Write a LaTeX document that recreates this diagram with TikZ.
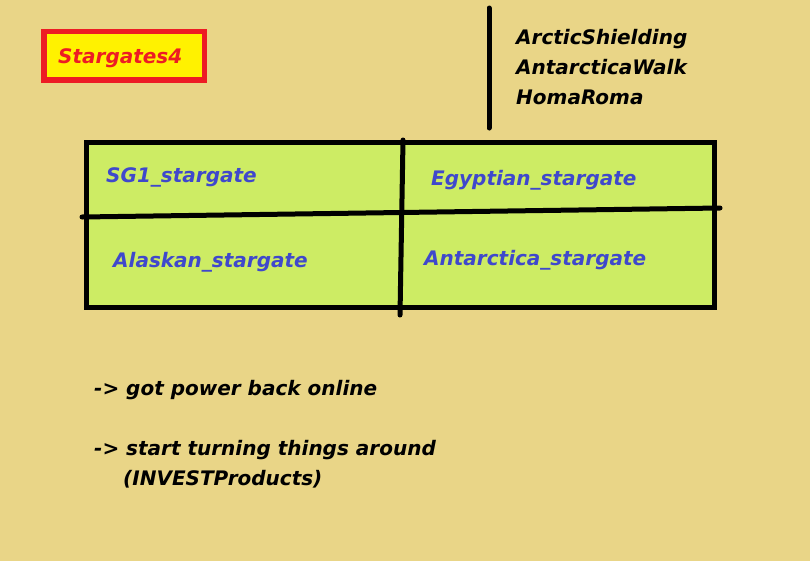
\documentclass[tikz,border=0pt]{standalone}
\usepackage{fontspec}
\setmainfont{DejaVu Sans}
\definecolor{bg}{RGB}{233,213,135}
\definecolor{cellgreen}{RGB}{205,236,100}
\definecolor{txtblue}{RGB}{63,72,204}
\definecolor{redb}{RGB}{237,28,36}
\definecolor{yel}{RGB}{255,242,0}
\tikzset{
  lbl/.style={anchor=base west, inner sep=0pt, font=\fontsize{20}{24}\selectfont\bfseries\itshape},
  celltxt/.style={lbl, text=txtblue},
  blacktxt/.style={lbl, text=black},
  thick line/.style={draw=black, line width=5pt, line cap=round}
}
\begin{document}
\begin{tikzpicture}[x=1pt,y=-1pt]
\useasboundingbox (0,0) rectangle (810,560);
\fill[bg] (-2,-2) rectangle (812,562);
% title box
\draw[redb, fill=yel, line width=5.5pt] (44,31.5) rectangle (204.5,80);
\node[lbl, text=redb] (title) at (58,63) {Stargates4};
% vertical line top right
\draw[thick line] (489,8) -- (489,128);
\node[blacktxt] (t1) at (516,44) {ArcticShielding};
\node[blacktxt] (t2) at (516,74) {AntarcticaWalk};
\node[blacktxt] (t3) at (516,104) {HomaRoma};
% grid
\draw[black, fill=cellgreen, line width=5pt] (86.5,142.5) rectangle (714.5,307.5);
\draw[thick line] (82,217) -- (720,208);
\draw[thick line] (403,140) -- (400,315);
\node[celltxt] (c1) at (106,182) {SG1\_stargate};
\node[celltxt] (c2) at (431,185) {Egyptian\_stargate};
\node[celltxt] (c3) at (113,267) {Alaskan\_stargate};
\node[celltxt] (c4) at (424,265) {Antarctica\_stargate};
% bottom notes
\node[blacktxt] (n1) at (94,395) {-> got power back online};
\node[blacktxt] (n2) at (94,455) {-> start turning things around};
\node[blacktxt] (n3) at (123,485) {(INVESTProducts)};
\end{tikzpicture}
\end{document}
